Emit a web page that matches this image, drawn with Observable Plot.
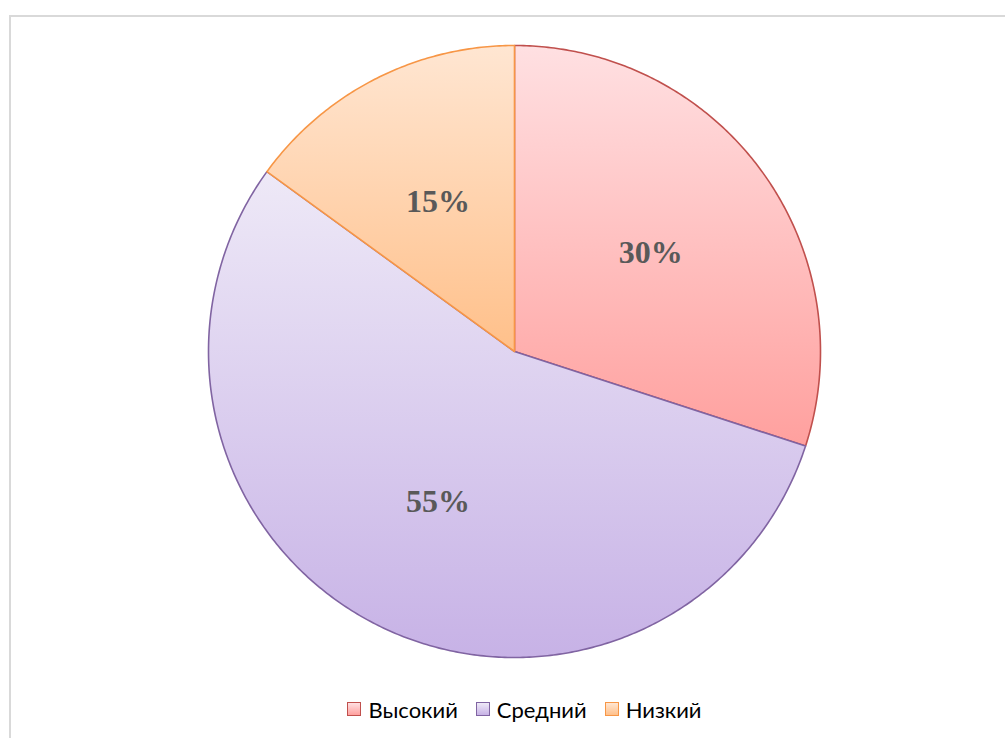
<!DOCTYPE html>
<html>
<head>
<meta charset="utf-8">
<script src="https://cdn.jsdelivr.net/npm/d3@7"></script>
<script src="https://cdn.jsdelivr.net/npm/@observablehq/plot@0.6"></script>
<style>
  html, body { margin: 0; padding: 0; background: #fff; }
  #wrap { position: relative; width: 1005px; height: 738px; overflow: hidden; }
  #frame { position: absolute; left: 9px; top: 15px; width: 1100px; height: 800px;
           border-left: 2px solid #d9d9d9; border-top: 2px solid #d9d9d9; box-sizing: border-box; }
  #chart { position: absolute; left: 0; top: 0; }
  #legend { position: absolute; left: 0; top: 696px; width: 1005px; height: 26px;
            display: flex; justify-content: center; align-items: center;
            font-family: Lato, "Open Sans", sans-serif; font-size: 22px; color: #000;
            padding-left: 44px; box-sizing: border-box; }
  .item { display: flex; align-items: center; margin: 0 9px; }
  .sw { width: 12px; height: 12px; margin-right: 7px; }
</style>
</head>
<body>
<div id="wrap">
  <div id="frame"></div>
  <div id="chart"></div>
  <div id="legend"></div>
</div>
<script>
const categories = ["Высокий", "Средний", "Низкий"];
const values = [30, 55, 15];
const labels = ["30%", "55%", "15%"];
const strokeColors = ["#C0504D", "#8064A2", "#F79646"];
const gradTop = ["#FFE0E2", "#EEE9F7", "#FFE6D2"];
const gradBottom = ["#FFA09E", "#C7B2E6", "#FFC08A"];

const pie = d3.pie().sort(null).value(d => d)(values);

// slice outlines in unit coordinates (angle 0 at top, clockwise)
const slices = pie.map((p, i) => {
  const pts = [{x: 0, y: 0}];
  const n = Math.max(2, Math.ceil((p.endAngle - p.startAngle) / 0.01));
  for (let k = 0; k <= n; k++) {
    const a = p.startAngle + (p.endAngle - p.startAngle) * k / n;
    pts.push({x: Math.sin(a), y: Math.cos(a)});
  }
  pts.push({x: 0, y: 0});
  return pts;
});

const labelR = 0.55;
const labelData = pie.map((p, i) => {
  const a = (p.startAngle + p.endAngle) / 2;
  return {x: labelR * Math.sin(a), y: labelR * Math.cos(a), text: labels[i]};
});

const W = 1005, H = 690;
const plot = Plot.plot({
  width: W,
  height: H,
  marginLeft: 208,
  marginRight: W - 820,
  marginTop: 45,
  marginBottom: H - 657,
  x: {domain: [-1, 1], axis: null},
  y: {domain: [-1, 1], axis: null},
  style: {background: "transparent", overflow: "visible"},
  marks: [
    ...slices.map((pts, i) => Plot.line(pts, {
      x: "x", y: "y",
      fill: `url(#grad${i})`,
      stroke: strokeColors[i],
      strokeWidth: 1.6,
      strokeLinejoin: "round",
      curve: "linear"
    })),
    Plot.text(labelData, {
      x: "x", y: "y", text: "text",
      fontSize: 32, fontWeight: "bold",
      fontFamily: "Liberation Serif, Times New Roman, serif",
      fill: "#595959"
    })
  ]
});

// gradients
const svg = d3.select(plot);
const defs = svg.insert("defs", ":first-child");
categories.forEach((c, i) => {
  const g = defs.append("linearGradient").attr("id", `grad${i}`)
    .attr("x1", 0).attr("y1", 0).attr("x2", 0).attr("y2", 1);
  g.append("stop").attr("offset", "0%").attr("stop-color", gradTop[i]);
  g.append("stop").attr("offset", "100%").attr("stop-color", gradBottom[i]);
});
document.getElementById("chart").appendChild(plot);

// legend
const legend = d3.select("#legend");
categories.forEach((c, i) => {
  const it = legend.append("div").attr("class", "item");
  it.append("div").attr("class", "sw")
    .style("background", `linear-gradient(${gradTop[i]}, ${gradBottom[i]})`)
    .style("border", `1.5px solid ${strokeColors[i]}`);
  it.append("span").text(c);
});
</script>
</body>
</html>
